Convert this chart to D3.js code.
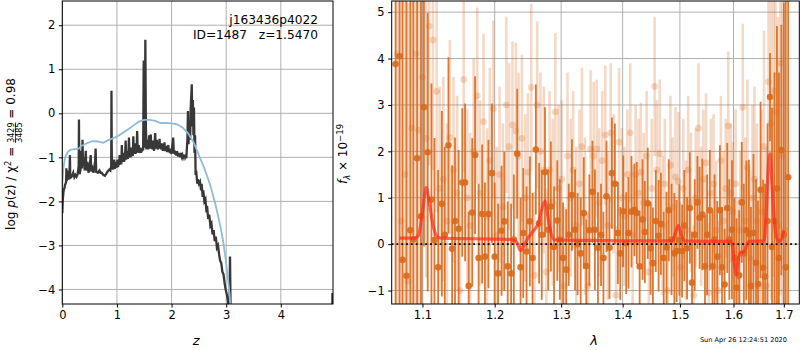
<!doctype html>
<html lang="en">
  <head>
    <meta charset="utf-8">
    <title>redshift fit</title>
    <script src="https://d3js.org/d3.v7.min.js"></script>
    <style>
      body { margin: 0; background: #fff; }
      text { font-family: 'DejaVu Sans', sans-serif; }
    </style>
  </head>
  <body>
  <script>

    //p(z) panel data, [z, log p(z)]:
    const pzCurve = [
      [0.00,-2.27],[0.01,-1.95],[0.02,-1.80],[0.03,-1.72],[0.04,-1.70],[0.05,-1.62],[0.06,-1.60],[0.07,-1.55],[0.075,-1.25],[0.08,-1.52],
      [0.09,-1.50],[0.10,-1.48],[0.11,-1.30],[0.115,-1.50],[0.13,-1.46],[0.14,-0.95],[0.145,-1.40],[0.16,-1.45],[0.18,-1.42],[0.20,-1.35],
      [0.22,-1.45],[0.24,-1.40],[0.26,-1.44],[0.28,-1.38],[0.30,-1.20],[0.305,-0.14],[0.31,-1.10],[0.32,-1.38],[0.34,-1.20],[0.35,-0.85],
      [0.36,-1.25],[0.37,-0.60],[0.38,-1.20],[0.40,-1.00],[0.41,-1.30],[0.43,-0.85],[0.44,-1.30],[0.46,-1.10],[0.48,-1.35],[0.50,-1.25],
      [0.52,-0.95],[0.53,-1.32],[0.55,-1.25],[0.57,-1.35],[0.60,-1.10],[0.61,-0.80],[0.62,-1.33],[0.65,-1.35],[0.68,-1.30],[0.70,-1.35],
      [0.72,-1.35],[0.75,-1.40],[0.78,-1.42],[0.80,-1.38],[0.83,-1.32],[0.86,-1.28],[0.88,-1.30],[0.895,-1.20],[0.90,0.51],[0.905,-0.80],
      [0.91,-1.25],[0.92,-1.15],[0.93,-1.28],[0.94,-1.18],[0.95,-1.05],[0.96,-1.26],[0.97,-1.20],[0.98,-1.10],[0.99,-1.24],[1.00,-1.15],
      [1.01,-1.05],[1.02,-1.22],[1.03,-1.12],[1.04,-1.18],[1.05,-0.95],[1.06,-1.15],[1.07,-1.08],[1.08,-1.16],[1.09,-0.72],[1.10,-1.10],
      [1.11,-1.02],[1.12,-0.90],[1.13,-1.10],[1.14,-1.05],[1.15,-0.95],[1.16,-0.62],[1.17,-1.05],[1.18,-0.95],[1.19,-0.85],[1.20,-1.03],
      [1.21,-0.98],[1.22,-0.55],[1.23,-0.98],[1.24,-0.90],[1.25,-1.00],[1.26,-0.78],[1.27,-0.95],[1.28,-0.88],[1.29,-0.97],[1.30,-0.52],
      [1.31,-0.92],[1.32,-0.85],[1.33,-0.68],[1.34,-0.92],[1.35,-0.82],[1.36,-0.90],[1.37,-0.40],[1.38,-0.88],[1.39,-0.80],[1.40,-0.72],
      [1.41,-0.90],[1.42,-0.85],[1.43,-0.78],[1.44,-0.90],[1.45,-0.82],[1.46,-0.86],[1.47,-0.80],[1.48,-0.84],[1.49,1.20],[1.50,-0.78],
      [1.51,-0.55],[1.52,1.67],[1.53,-0.30],[1.54,-0.82],[1.55,-0.70],[1.56,-0.60],[1.57,-0.82],[1.58,-0.75],[1.59,-0.50],[1.60,-0.80],
      [1.61,-0.65],[1.62,-0.48],[1.63,-0.80],[1.64,-0.72],[1.65,-0.82],[1.66,-0.62],[1.67,-0.78],[1.68,-0.85],[1.69,-0.70],[1.70,-0.45],
      [1.71,-0.80],[1.72,-0.72],[1.73,-0.60],[1.74,-0.78],[1.75,-0.82],[1.76,-0.65],[1.77,-0.80],[1.78,-0.58],[1.79,-0.78],[1.80,-0.72],
      [1.81,-0.82],[1.82,-0.68],[1.83,-0.80],[1.84,-0.85],[1.85,-0.70],[1.86,-0.82],[1.87,-0.66],[1.88,-0.86],[1.89,-0.78],[1.90,-0.84],
      [1.91,-0.74],[1.92,-0.88],[1.93,-0.82],[1.94,-0.72],[1.95,-0.88],[1.96,-0.84],[1.97,-0.90],[1.98,-0.80],[1.99,-0.88],[2.00,-0.92],
      [2.01,-0.78],[2.02,-0.68],[2.03,-0.55],[2.04,-0.86],[2.05,-0.92],[2.06,-0.85],[2.07,-0.94],[2.08,-0.88],[2.09,-0.96],[2.10,-0.86],
      [2.11,-0.94],[2.12,-0.98],[2.13,-0.90],[2.14,-0.96],[2.15,-0.92],[2.16,-1.00],[2.17,-0.94],[2.18,-0.90],[2.19,-0.98],[2.20,-0.95],
      [2.21,-1.00],[2.22,-0.96],[2.23,-1.02],[2.24,-0.94],[2.25,-1.00],[2.26,-0.97],[2.27,-1.02],[2.28,-0.80],[2.29,-0.60],[2.30,0.05],
      [2.31,-0.70],[2.32,-0.30],[2.34,-0.60],[2.35,0.10],[2.37,0.66],[2.38,-0.30],[2.39,0.30],[2.40,-0.50],[2.41,0.13],[2.42,-0.90],
      [2.43,-0.50],[2.44,-1.40],[2.45,-1.30],[2.47,-1.60],[2.48,-1.50],[2.50,-1.60],[2.52,-1.55],[2.54,-1.75],[2.55,-1.60],[2.57,-1.90],
      [2.58,-1.75],[2.60,-2.00],[2.62,-1.95],[2.64,-2.25],[2.65,-2.10],[2.67,-2.40],[2.69,-2.30],[2.71,-2.55],[2.73,-2.50],[2.75,-2.75],
      [2.77,-2.65],[2.79,-2.90],[2.81,-2.80],[2.83,-3.05],[2.85,-3.00],[2.87,-3.20],[2.89,-3.35],[2.91,-3.40],[2.93,-3.60],[2.95,-3.65],
      [2.97,-3.85],[2.99,-4.00],[3.01,-4.10],[3.03,-4.25],[3.04,-4.35],[3.06,-4.30],[3.07,-3.25],[3.08,-4.40],[3.10,-6.00],[4.93,-6.00],
      [4.945,-4.08]
    ];
    const priorCurve = [
      [0.00,-1.62],[0.02,-1.25],[0.05,-1.00],[0.10,-0.88],[0.15,-0.83],[0.20,-0.82],[0.30,-0.80],[0.35,-0.74],[0.45,-0.68],[0.55,-0.63],
      [0.65,-0.64],[0.75,-0.67],[0.82,-0.62],[0.90,-0.58],[1.00,-0.53],[1.10,-0.45],[1.20,-0.37],[1.30,-0.28],[1.40,-0.19],[1.50,-0.15],
      [1.60,-0.15],[1.70,-0.17],[1.80,-0.22],[1.90,-0.22],[2.00,-0.23],[2.10,-0.25],[2.20,-0.32],[2.30,-0.45],[2.40,-0.65],[2.50,-0.95],
      [2.60,-1.25],[2.70,-1.60],[2.80,-2.05],[2.90,-2.60],[2.95,-2.95],[3.00,-3.40],[3.05,-3.95],[3.08,-4.40]
    ];
    const zTicks = [0, 1, 2, 3, 4];
    const logTicks = [-4, -3, -2, -1, 0, 1, 2];

    //spectrum panel data (dark = weighted, light = other beam):
    const waveA = [1.065,1.070,1.074,1.079,1.084,1.088,1.093,1.098,1.102,1.107,1.112,1.116,1.121,1.126,1.130,1.135,1.140,1.144,1.149,1.154,1.158,1.163,1.168,1.172,1.177,1.182,1.186,1.191,1.196,1.200,1.205,1.210,1.214,1.219,1.224,1.228,1.233,1.238,1.242,1.247,1.252,1.256,1.261,1.266,1.270,1.275,1.280,1.284,1.289,1.294,1.298,1.303,1.308,1.312,1.317,1.322,1.326,1.331,1.336,1.340,1.345,1.350,1.354,1.359,1.364,1.368,1.373,1.378,1.382,1.387,1.392,1.396,1.401,1.406,1.410,1.415,1.420,1.424,1.429,1.434,1.438,1.443,1.448,1.452,1.457,1.462,1.466,1.471,1.476,1.480,1.485,1.490,1.494,1.499,1.504,1.508,1.513,1.518,1.522,1.527,1.532,1.536,1.541,1.546,1.550,1.555,1.560,1.564,1.569,1.574,1.578,1.583,1.588,1.592,1.597,1.602,1.606,1.611,1.616,1.620,1.625,1.630,1.634,1.639,1.644,1.648,1.653,1.658,1.662,1.667,1.672,1.676,1.681,1.686,1.690,1.695,1.700,1.704,1.709];
    const fluxA = [3.88,4.05,-0.34,-0.68,0.30,0.10,1.85,0.60,2.95,1.98,0.96,0.09,-0.50,0.87,0.20,2.13,-0.10,0.50,0.33,1.33,1.33,-0.90,0.68,1.92,-0.30,0.65,-0.27,0.65,1.53,-0.27,-0.63,0.29,0.49,-0.48,-0.63,0.10,1.95,-0.50,0.24,-0.16,0.49,-0.30,2.04,0.45,0.20,1.55,0.31,0.81,-0.06,0.51,0.10,-0.30,-0.55,0.20,1.06,0.31,0.00,-0.20,0.67,-0.47,0.30,1.13,0.31,-0.08,0.20,-0.30,1.03,-0.08,1.53,1.30,0.24,-0.20,0.71,0.02,0.24,0.70,0.74,0.67,-0.48,0.53,0.26,0.88,-0.09,-0.41,0.50,0.18,0.44,-0.30,-0.07,0.73,0.10,-0.20,-0.15,0.09,-0.15,0.40,-0.09,0.78,-0.83,0.20,0.90,0.57,0.64,-0.48,0.20,0.73,-0.48,0.10,-0.27,0.73,-0.50,-0.87,0.78,0.10,0.31,-0.30,-0.94,-0.67,0.90,-0.20,0.30,0.22,-0.90,0.24,-0.40,-0.86,1.17,-0.51,-0.70,0.50,3.17,-0.06,0.50,1.20,-0.30,2.03,0.20,-0.50,1.44];
    const errA = [8,8,8,8,8,8,8,8,3.0,3.0,2.5,2.2,2.1,2.0,1.9,1.9,1.8,1.8,
      1.7,1.6,1.7,1.6,1.6,1.7,1.6,1.5,1.6,1.6,1.5,1.6,
      1.5,1.4,1.5,1.4,1.5,1.4,1.4,1.5,1.4,1.4,1.4,1.4,1.4,1.3,1.4,1.4,1.3,1.4,1.3,1.3,1.3,
      1.2,1.3,1.1,1.2,1.3,1.1,1.2,1.2,1.0,1.2,1.1,1.3,1.2,1.1,1.0,1.2,1.1,1.2,1.3,1.1,1.0,1.2,1.1,1.2,1.2,1.0,1.1,1.2,1.3,1.1,1.2,1.0,1.2,1.1,1.2,1.1,1.0,1.2,1.1,1.2,1.3,1.1,1.2,1.0,1.2,1.1,1.2,1.1,1.2,1.0,1.1,1.2,1.1,1.3,
      1.3,1.2,1.4,1.2,1.4,1.3,1.2,1.4,1.3,1.5,1.3,1.5,1.4,1.3,1.5,1.5,
      1.6,1.7,1.7,1.8,1.8,1.9,1.9,2.0,2.1,
      0.95,3.0,3.2,3.5,4.0,2.7,5.0,6.0,8.0];
    const waveB = [1.067,1.072,1.077,1.081,1.086,1.091,1.095,1.100,1.105,1.109,1.114,1.119,1.123,1.128,1.133,1.137,1.142,1.147,1.151,1.156,1.161,1.165,1.170,1.175,1.179,1.184,1.189,1.193,1.198,1.203,1.207,1.212,1.217,1.221,1.226,1.231,1.235,1.240,1.245,1.249,1.254,1.259,1.263,1.268,1.273,1.277,1.282,1.287,1.291,1.296,1.301,1.305,1.310,1.315,1.319,1.324,1.329,1.333,1.338,1.343,1.347,1.352,1.357,1.361,1.366,1.371,1.375,1.380,1.385,1.389,1.394,1.399,1.403,1.408,1.413,1.417,1.422,1.427,1.431,1.436,1.441,1.445,1.450,1.455,1.459,1.464,1.469,1.473,1.478,1.483,1.487,1.492,1.497,1.501,1.506,1.511,1.515,1.520,1.525,1.529,1.534,1.539,1.543,1.548,1.553,1.557,1.562,1.567,1.571,1.576,1.581,1.585,1.590,1.595,1.599,1.604,1.609,1.613,1.618,1.623,1.627,1.632,1.637,1.641,1.646,1.651,1.655,1.660,1.665,1.669,1.674,1.679,1.683,1.688,1.693,1.697,1.702];
    const fluxB = [4.10,0.50,1.50,-0.80,2.50,4.10,2.45,3.60,2.28,4.70,4.40,3.29,1.20,1.40,0.50,2.30,1.60,1.10,-1.00,3.55,1.00,0.40,2.00,3.20,1.10,2.64,0.60,1.80,2.92,0.20,1.50,0.80,3.00,2.10,2.57,2.44,1.90,2.28,1.00,1.55,3.38,-0.67,3.00,2.00,1.60,-0.60,1.60,0.90,2.85,1.20,1.40,-0.90,1.90,1.00,1.60,0.40,1.30,2.10,0.60,-0.90,2.05,1.90,2.05,0.90,1.80,2.35,0.40,2.40,1.30,-1.10,2.20,1.00,0.60,1.50,2.40,0.20,1.50,1.10,1.55,0.90,1.90,-0.60,1.20,3.40,1.60,1.95,0.40,1.30,-1.00,1.70,0.80,1.45,1.35,-0.50,1.20,0.30,1.60,0.90,-1.10,1.00,2.50,0.60,1.40,1.75,-1.05,1.10,1.30,0.30,-1.00,1.80,0.50,1.20,2.55,1.10,0.70,1.30,-0.70,0.30,2.95,0.50,1.65,-0.30,1.00,1.40,0.50,-0.90,0.70,2.10,-0.90,3.50,2.60,3.30,2.85,0.40,3.90,1.90,0.30];
    const errB = [6,6,6,6,6,6,6,6,3.0,3.0,2.8,2.6,
      2.2,2.2,2.1,2.1,2.0,2.1,2.0,2.0,1.9,2.0,2.0,1.9,2.0,1.9,1.9,2.0,1.9,1.9,1.9,
      1.8,1.9,1.8,1.8,1.9,1.8,1.8,1.8,1.7,1.8,1.8,1.8,1.7,1.8,1.8,1.7,1.8,1.7,1.8,1.7,1.7,1.8,1.7,1.7,1.7,1.6,1.7,1.7,1.6,1.7,
      1.6,1.5,1.6,1.5,1.5,1.6,1.5,1.5,1.5,1.6,1.5,1.5,1.4,1.5,1.5,1.5,1.6,1.5,1.5,1.4,1.5,1.5,1.5,1.5,1.6,1.5,1.4,1.5,1.5,1.5,1.5,1.5,1.4,1.5,1.5,1.6,1.5,1.5,1.5,1.4,1.5,1.5,1.5,1.5,1.6,1.5,1.5,1.5,1.4,1.5,1.5,1.6,1.5,1.5,1.6,
      1.7,1.7,1.8,1.8,1.9,1.9,2.0,2.0,2.1,2.1,2.2,
      2.5,3.0,3.5,3.8,4.0,4.2,4.5,5.0,5.0];
    const modelWave = [1.070,1.090,1.095,1.100,1.105,1.110,1.115,1.120,1.125,1.150,1.200,1.225,1.232,1.238,1.244,1.250,1.258,1.265,1.270,1.275,1.280,1.285,1.290,1.350,1.420,1.487,1.492,1.497,1.502,1.508,1.550,1.595,1.598,1.602,1.605,1.609,1.613,1.620,1.625,1.630,1.660,1.664,1.669,1.672,1.676,1.680,1.685,1.690,1.695,1.700];
    const modelFlux = [0.13,0.13,0.20,0.70,1.22,0.80,0.35,0.16,0.13,0.12,0.11,0.10,0.05,-0.14,0.00,0.15,0.30,0.45,0.75,0.93,0.55,0.20,0.09,0.08,0.07,0.07,0.25,0.40,0.22,0.07,0.06,0.06,-0.05,-0.45,-0.66,-0.35,-0.18,-0.17,-0.05,0.06,0.07,0.60,1.75,1.95,1.30,0.60,0.15,0.06,0.10,0.30];
    const waveTicks = [1.1, 1.2, 1.3, 1.4, 1.5, 1.6, 1.7];
    const fluxTicks = [-1, 0, 1, 2, 3, 4, 5];

    const width = 800;
    const height = 350;
    const yTop = 1, yBot = 304;
    const gridColor = '#b0b0b0';
    const specColor = '#d9691c';

    const svg = d3.select('body')
      .append('svg')
      .attr('width', width)
      .attr('height', height);

    const defs = svg.append('defs');

    function addClip(id, xa, xb) {
      defs.append('clipPath').attr('id', id)
        .append('rect')
        .attr('x', xa).attr('y', yTop)
        .attr('width', xb - xa).attr('height', yBot - yTop);
    }

    function styleAxis(g) {
      g.select('.domain').remove();
      g.selectAll('.tick line').attr('stroke', '#000').attr('stroke-width', 1);
      g.selectAll('.tick text')
        .attr('fill', '#000')
        .style('font-size', '11.5px')
        .style('font-family', "'DejaVu Sans', sans-serif");
    }

    //left panel: log p(z)
    const x1 = d3.scaleLinear().domain([0, 4.955]).range([62.3, 333]);
    const y1 = d3.scaleLinear().domain([-4.33, 2.55]).range([yBot, yTop]);
    addClip('clipL', 62.3, 333);

    const gL = svg.append('g');
    gL.selectAll('.gx').data(zTicks).enter().append('line')
      .attr('x1', d => x1(d)).attr('x2', d => x1(d))
      .attr('y1', yTop).attr('y2', yBot)
      .attr('stroke', gridColor).attr('stroke-width', 1);
    gL.selectAll('.gy').data(logTicks).enter().append('line')
      .attr('x1', 62.3).attr('x2', 333)
      .attr('y1', d => y1(d)).attr('y2', d => y1(d))
      .attr('stroke', gridColor).attr('stroke-width', 1);

    const pzLine = d3.line().x(d => x1(d[0])).y(d => y1(d[1]));

    const plotL = gL.append('g').attr('clip-path', 'url(#clipL)');
    plotL.append('path')
      .attr('d', pzLine(pzCurve))
      .attr('fill', 'none')
      .attr('stroke', '#383838')
      .attr('stroke-width', 2.3)
      .attr('stroke-linejoin', 'miter')
      .attr('stroke-miterlimit', 4);
    plotL.append('path')
      .attr('d', pzLine(priorCurve))
      .attr('fill', 'none')
      .attr('stroke', '#8fbbd9')
      .attr('stroke-width', 1.8);

    gL.append('g')
      .attr('transform', `translate(0, ${yBot})`)
      .call(d3.axisBottom(x1).tickValues(zTicks).tickSize(3.5).tickPadding(3.5).tickFormat(d3.format('d')))
      .call(styleAxis);
    gL.append('g')
      .attr('transform', `translate(62.3, 0)`)
      .call(d3.axisLeft(y1).tickValues(logTicks).tickSize(3.5).tickPadding(3.5).tickFormat(d3.format('d')))
      .call(styleAxis);
    gL.append('rect')
      .attr('x', 62.3).attr('y', yTop)
      .attr('width', 333 - 62.3).attr('height', yBot - yTop)
      .attr('fill', 'none').attr('stroke', '#000').attr('stroke-width', 1);

    gL.append('text').attr('x', 318).attr('y', 24)
      .attr('text-anchor', 'end').style('font-size', '12.2px')
      .text('j163436p4022');
    gL.append('text').attr('x', 318).attr('y', 38.5)
      .attr('text-anchor', 'end').style('font-size', '12.2px')
      .attr('xml:space', 'preserve')
      .text('ID=1487   z=1.5470');

    gL.append('text')
      .attr('x', x1(2.45)).attr('y', 345)
      .attr('text-anchor', 'middle')
      .style('font-size', '13px').style('font-style', 'italic')
      .text('z');

    //left y label with stacked fraction
    const yl = gL.append('g').attr('transform', 'translate(15, 154) rotate(-90)');
    const t1 = yl.append('text').style('font-size', '12px');
    t1.append('tspan').text('log ');
    t1.append('tspan').style('font-style', 'italic').text('p');
    t1.append('tspan').text('(z) / \u03c7');
    t1.append('tspan').attr('dy', -4.5).style('font-size', '8.5px').text('2');
    t1.append('tspan').attr('dy', 4.5).attr('xml:space', 'preserve').text(' = ');
    const fracN = yl.append('text').style('font-size', '8px').attr('text-anchor', 'middle').text('3429');
    const fracD = yl.append('text').style('font-size', '8px').attr('text-anchor', 'middle').text('3485');
    const fracBar = yl.append('line').attr('stroke', '#000').attr('stroke-width', 0.7);
    const t3 = yl.append('text').style('font-size', '12px').attr('xml:space', 'preserve').text(' = 0.98');
    const w1 = t1.node().getComputedTextLength();
    const wf = Math.max(fracN.node().getComputedTextLength(), fracD.node().getComputedTextLength());
    const w3 = t3.node().getComputedTextLength();
    const xs = -(w1 + wf + w3) / 2;
    t1.attr('x', xs).attr('y', 0);
    fracN.attr('x', xs + w1 + wf / 2).attr('y', -1.2);
    fracD.attr('x', xs + w1 + wf / 2).attr('y', 7);
    fracBar.attr('x1', xs + w1).attr('x2', xs + w1 + wf).attr('y1', 0.5).attr('y2', 0.5);
    t3.attr('x', xs + w1 + wf).attr('y', 0);

    //right panel: spectrum
    const x2 = d3.scaleLog().domain([1.06, 1.732]).range([391.7, 799.3]);
    const y2 = d3.scaleLinear().domain([-1.29, 5.24]).range([yBot, yTop]);
    addClip('clipR', 391.7, 799.3);

    const gR = svg.append('g');
    gR.selectAll('.gx').data(waveTicks).enter().append('line')
      .attr('x1', d => x2(d)).attr('x2', d => x2(d))
      .attr('y1', yTop).attr('y2', yBot)
      .attr('stroke', gridColor).attr('stroke-width', 1);
    gR.selectAll('.gy').data(fluxTicks).enter().append('line')
      .attr('x1', 391.7).attr('x2', 799.3)
      .attr('y1', d => y2(d)).attr('y2', d => y2(d))
      .attr('stroke', gridColor).attr('stroke-width', 1);

    const plotR = gR.append('g').attr('clip-path', 'url(#clipR)');
    const specB = waveB.map((w, i) => ({w: w, f: fluxB[i], e: errB[i]}));
    const specA = waveA.map((w, i) => ({w: w, f: fluxA[i], e: errA[i]}));

    function drawSpec(data, opacity, barWidth, r) {
      const g = plotR.append('g');
      g.selectAll('line').data(data).enter().append('line')
        .attr('x1', d => x2(d.w)).attr('x2', d => x2(d.w))
        .attr('y1', d => y2(d.f - d.e)).attr('y2', d => y2(d.f + d.e))
        .attr('stroke', specColor).attr('stroke-opacity', opacity).attr('stroke-width', barWidth);
      g.selectAll('circle').data(data).enter().append('circle')
        .attr('cx', d => x2(d.w)).attr('cy', d => y2(d.f))
        .attr('r', r).attr('fill', specColor).attr('fill-opacity', opacity);
    }
    drawSpec(specB, 0.25, 2.6, 3.4);
    drawSpec(specA, 0.9, 1.8, 3.3);

    plotR.append('line')
      .attr('x1', 391.7).attr('x2', 799.3)
      .attr('y1', y2(0)).attr('y2', y2(0))
      .attr('stroke', '#000').attr('stroke-width', 1.8)
      .attr('stroke-dasharray', '1.8,3');

    const modelPts = modelWave.map((w, i) => [w, modelFlux[i]]);
    plotR.append('path')
      .attr('d', d3.line().x(d => x2(d[0])).y(d => y2(d[1])).curve(d3.curveMonotoneX)(modelPts))
      .attr('fill', 'none')
      .attr('stroke', '#ff2a1a')
      .attr('stroke-opacity', 0.7)
      .attr('stroke-width', 3.2);

    gR.append('g')
      .attr('transform', `translate(0, ${yBot})`)
      .call(d3.axisBottom(x2).tickValues(waveTicks).tickSize(3.5).tickPadding(3.5).tickFormat(d3.format('.1f')))
      .call(styleAxis);
    gR.append('g')
      .attr('transform', `translate(391.7, 0)`)
      .call(d3.axisLeft(y2).tickValues(fluxTicks).tickSize(3.5).tickPadding(3.5).tickFormat(d3.format('d')))
      .call(styleAxis);
    gR.append('rect')
      .attr('x', 391.7).attr('y', yTop)
      .attr('width', 799.3 - 391.7).attr('height', yBot - yTop)
      .attr('fill', 'none').attr('stroke', '#000').attr('stroke-width', 1);

    gR.append('text')
      .attr('x', 594).attr('y', 345)
      .attr('text-anchor', 'middle')
      .style('font-size', '13px').style('font-style', 'italic')
      .text('\u03bb');

    const yr = gR.append('text')
      .attr('transform', 'translate(347, 154) rotate(-90)')
      .attr('text-anchor', 'middle')
      .style('font-size', '12px');
    yr.append('tspan').style('font-style', 'italic').text('f');
    yr.append('tspan').attr('dy', 3).style('font-size', '8.5px').style('font-style', 'italic').text('\u03bb');
    yr.append('tspan').attr('dy', -3).attr('xml:space', 'preserve').text(' \u00d7 10');
    yr.append('tspan').attr('dy', -4.5).style('font-size', '8.5px').text('\u221219');

    svg.append('text')
      .attr('x', 787).attr('y', 342)
      .attr('text-anchor', 'end')
      .style('font-size', '6.6px')
      .text('Sun Apr 26 12:24:51 2020');

  </script>
  </body>
</html>
